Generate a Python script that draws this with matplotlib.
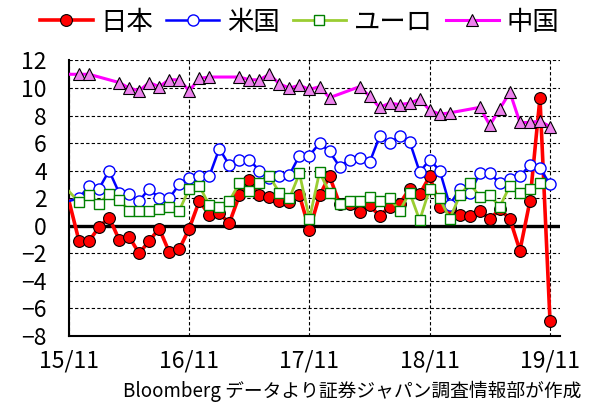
import numpy as np
import matplotlib
matplotlib.use("Agg")
import matplotlib.pyplot as plt
from matplotlib.lines import Line2D

plt.rcParams['font.family'] = ['Noto Sans CJK JP', 'DejaVu Sans']

# month offset from the 15/11 tick (0 = first point, 48 = 19/11)
months = list(range(49))
tick_pos = [0, 12, 24, 36, 48]
tick_labels = ['15/11', '16/11', '17/11', '18/11', '19/11']
y_ticks = [-8, -6, -4, -2, 0, 2, 4, 6, 8, 10, 12]

series_names = ['日本', '米国', 'ユーロ', '中国']

japan = [1.8, -1.1, -1.1, -0.1, 0.6, -1.0, -0.8, -2.0, -1.1, -0.2,
         -1.9, -1.7, -0.2, 1.8, 0.8, 0.9, 0.2, 2.2, 3.3, 2.2,
         2.1, 1.8, 1.7, 2.2, -0.3, 2.2, 3.6, 1.6, 1.6, 1.0,
         1.5, 0.7, 1.4, 1.6, 2.7, 2.3, 3.6, 1.4, 1.3, 0.8,
         0.7, 1.1, 0.5, 1.2, 0.5, -1.8, 1.8, 9.3, -6.9]

usa = [1.8, 2.0, 2.9, 2.7, 4.0, 2.4, 2.3, 1.8, 2.7, 2.0,
       2.0, 3.0, 3.5, 3.6, 3.6, 5.6, 4.4, 4.8, 4.8, 4.0,
       3.5, 3.6, 3.7, 5.1, 5.1, 6.0, 5.4, 4.3, 4.8, 4.9,
       4.6, 6.5, 6.0, 6.5, 6.1, 3.9, 4.8, 4.0, 1.5, 2.7,
       2.4, 3.8, 3.8, 3.1, 3.4, 3.6, 4.4, 4.2, 3.0]

euro = [2.5, 1.7, 2.2, 1.6, 2.3, 1.9, 1.1, 1.1, 1.1, 1.2,
        1.4, 1.1, 2.7, 2.9, 1.5, 1.4, 1.8, 3.1, 2.5, 3.1,
        3.6, 2.4, 2.0, 3.8, 0.5, 3.9, 2.4, 1.6, 1.8, 1.8,
        2.1, 1.8, 2.0, 1.1, 2.4, 0.4, 2.7, 2.0, 0.5, 2.2,
        3.1, 2.1, 2.2, 1.4, 2.9, 2.4, 2.7, 3.1, None]

china = [11.0, 11.0, 11.0, None, None, 10.4, 10.0, 9.8, 10.4, 10.1,
         10.6, 10.6, 9.8, 10.7, 10.8, None, None, 10.8, 10.6, 10.6,
         11.0, 10.3, 10.0, 10.2, 9.9, 10.1, 9.3, None, None, 10.1,
         9.4, 8.6, 8.9, 8.8, 8.9, 9.2, 8.4, 8.1, 8.2, None,
         None, 8.6, 7.3, 8.5, 9.7, 7.5, 7.5, 7.6, 7.2]

styles = [
    dict(color='#FF0000', lw=2.6, marker='o', ms=8.5, mfc='#FF0000', mec='black', mew=0.8),
    dict(color='#0000FF', lw=1.8, marker='o', ms=8, mfc='white', mec='#0000FF', mew=1.0),
    dict(color='#9ACD32', lw=2.0, marker='s', ms=7.5, mfc='white', mec='#008000', mew=1.0),
    dict(color='#FF00FF', lw=2.2, marker='^', ms=9, mfc='#EE82EE', mec='black', mew=0.8),
]

fig = plt.figure(figsize=(5.91, 4.08), dpi=100)
ax = fig.add_axes([69/591, 1-336/408, (560-69)/591, (336-60.5)/408])
ax.set_xlim(0, 49)
ax.set_ylim(-8, 12)

ax.axhline(0, color='black', lw=2.4, zorder=1.5)

for vals, st in zip([japan, usa, euro, china], styles):
    xs = [m for m, v in zip(months, vals) if v is not None]
    ys = [v for v in vals if v is not None]
    mk = [i for i, m in enumerate(xs) if m >= 1]
    ax.plot(xs, ys, markevery=mk, zorder=3, **st)

ax.set_xticks(tick_pos)
ax.set_xticklabels(tick_labels)
ax.set_yticks(y_ticks)
ax.set_yticklabels([('−' + str(-t)) if t < 0 else str(t) for t in y_ticks])
ax.tick_params(axis='both', length=0, labelsize=16.5)
ax.tick_params(axis='x', pad=10)
ax.tick_params(axis='y', pad=16)

ax.grid(True, color='black', lw=0.8, ls=(0, (3, 2)))
ax.set_axisbelow(True)
for s in ['top', 'right']:
    ax.spines[s].set_visible(False)
for s in ['left', 'bottom']:
    ax.spines[s].set_linewidth(1.5)
    ax.spines[s].set_color('black')

handles = [Line2D([], [], **st) for st in styles]
fig.legend(handles, series_names, loc='center', bbox_to_anchor=(0.507, 1-22/408),
           ncol=4, frameon=False, fontsize=19, handlelength=2.0,
           handletextpad=0.3, columnspacing=0.5, borderpad=0, borderaxespad=0)

fig.text(581/591, 1-391/408, 'Bloomberg データより証券ジャパン調査情報部が作成',
         ha='right', va='center', fontsize=13.5)

fig.savefig('out.png', dpi=100)
